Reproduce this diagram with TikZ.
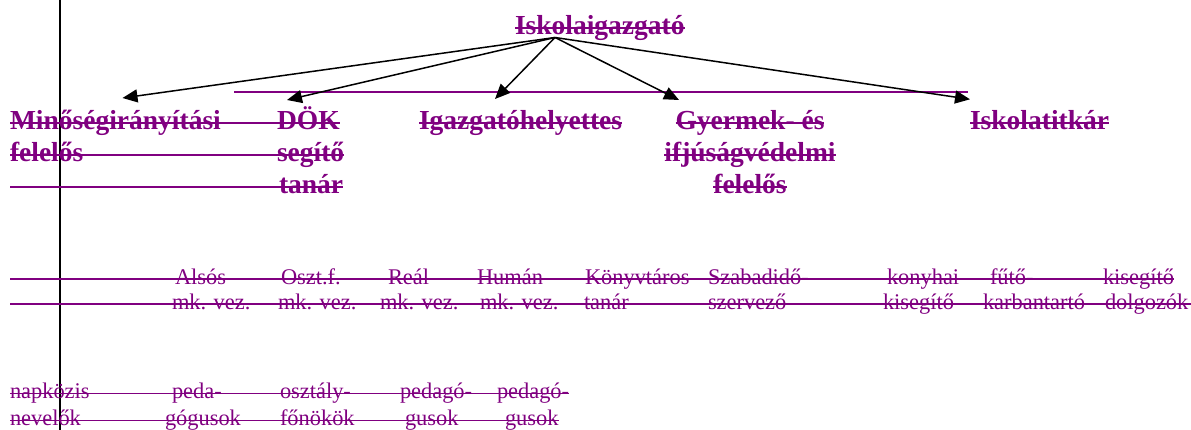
\documentclass[tikz,border=0pt]{standalone}
\usepackage{fontspec}
\setmainfont{Liberation Serif}
\usetikzlibrary{arrows.meta}
\definecolor{pur}{HTML}{800080}
\begin{document}
\begin{tikzpicture}[x=1pt,y=-1pt,
  bt/.style={inner sep=0pt,outer sep=0pt,anchor=base west,text=pur,font=\bfseries\fontsize{27.5}{32}\selectfont},
  btc/.style={bt,anchor=base},
  rt/.style={inner sep=0pt,outer sep=0pt,anchor=base west,text=pur,font=\fontsize{22.4}{26}\selectfont},
  sb/.style={draw=pur,line width=2pt},
  sr/.style={draw=pur,line width=1.5pt},
  arr/.style={draw=black,line width=1.5pt,-{Triangle[length=15pt,width=13pt]}}]
\useasboundingbox (0,0) rectangle (1191,430);
% vertical line
\coordinate (vtop) at (60,0);
\coordinate (vbot) at (60,430);
\draw[line width=2.2pt] (vtop) -- (vbot);
% bold nodes
\node[bt] (isk) at (515,34.5) {Iskolaigazgató};
\node[bt] (m1) at (10,130) {Minőségirányítási};
\node[bt] (m2) at (10,161.5) {felelős};
\node[bt] (dok1) at (277,130) {DÖK};
\node[bt] (dok2) at (277,161.5) {segítő};
\node[bt] (dok3) at (279,193.5) {tanár};
\node[bt] (igh) at (419,130) {Igazgatóhelyettes};
\node[btc] (gy1) at (750,130) {Gyermek- és};
\node[btc] (gy2) at (750,161.5) {ifjúságvédelmi};
\node[btc] (gy3) at (750,193.5) {felelős};
\node[bt] (ikt) at (970,130) {Iskolatitkár};
% regular nodes row A
\node[rt] (a1) at (175,284.3) {Alsós};
\node[rt] (a2) at (281,284.3) {Oszt.f.};
\node[rt] (a3) at (388,284.3) {Reál};
\node[rt] (a4) at (477,284.3) {Humán};
\node[rt] (a5) at (585,284.3) {Könyvtáros};
\node[rt] (a6) at (708,284.3) {Szabadidő-};
\node[rt] (a7) at (887,284.3) {konyhai};
\node[rt] (a8) at (990,284.3) {fűtő-};
\node[rt] (a9) at (1103,284.3) {kisegítő};
% row B
\node[rt] (b1) at (172,309.3) {mk. vez.};
\node[rt] (b2) at (278,309.3) {mk. vez.};
\node[rt] (b3) at (380,309.3) {mk. vez.};
\node[rt] (b4) at (480,309.3) {mk. vez.};
\node[rt] (b5) at (584,309.3) {tanár};
\node[rt] (b6) at (708,309.3) {szervező};
\node[rt] (b7) at (883,309.3) {kisegítő};
\node[rt] (b8) at (983,309.3) {karbantartó};
\node[rt] (b9) at (1105,309.3) {dolgozók};
% row C
\node[rt] (c1) at (10,398.6) {napközis};
\node[rt] (c2) at (172,398.6) {peda-};
\node[rt] (c3) at (280,398.6) {osztály-};
\node[rt] (c4) at (400,398.6) {pedagó-};
\node[rt] (c5) at (497,398.6) {pedagó-};
% row D
\node[rt] (d1) at (10,425.8) {nevelők};
\node[rt] (d2) at (165,425.8) {gógusok};
\node[rt] (d3) at (280,425.8) {főnökök};
\node[rt] (d4) at (405,425.8) {gusok};
\node[rt] (d5) at (505,425.8) {gusok};
% strike lines
\draw[sb] ([yshift=6pt]isk.base west) -- ([yshift=6pt]isk.base east);
\draw[sb] (10,123.5) -- ([yshift=6.5pt]dok1.base east);
\draw[sb] (10,155) -- ([yshift=6.5pt]dok2.base east);
\draw[sb] (10,187) -- ([yshift=6.5pt]dok3.base east);
\draw[sb] ([yshift=6.5pt]igh.base west) -- ([yshift=6.5pt]igh.base east);
\draw[sb] ([yshift=6.5pt]gy1.base west) -- ([yshift=6.5pt]gy1.base east);
\draw[sb] ([yshift=6.5pt]gy2.base west) -- ([yshift=6.5pt]gy2.base east);
\draw[sb] ([yshift=6.5pt]gy3.base west) -- ([yshift=6.5pt]gy3.base east);
\draw[sb] ([yshift=6.5pt]ikt.base west) -- ([yshift=6.5pt]ikt.base east);
\draw[sr] (10,279) -- ([yshift=5.3pt]a9.base east);
\draw[sr] (10,304) -- (1191,304);
\draw[sr] (10,393.3) -- ([yshift=5.3pt]c5.base east);
\draw[sr] (10,420.5) -- ([yshift=5.3pt]d5.base east);
% purple horizontal line
\coordinate (hl) at (234,91.7);
\coordinate (hr) at (968,91.7);
\draw[draw=pur,line width=2pt] (hl) -- (hr);
% arrows
\coordinate (src) at (555,37.5);
\coordinate (t1) at (122.5,98);
\coordinate (t2) at (287,100);
\coordinate (t3) at (495,99);
\coordinate (t4) at (679,100);
\coordinate (t5) at (970,99.3);
\draw[arr] (src) -- (t1);
\draw[arr] (src) -- (t2);
\draw[arr] (src) -- (t3);
\draw[arr] (src) -- (t4);
\draw[arr] (src) -- (t5);
\end{tikzpicture}
\end{document}
